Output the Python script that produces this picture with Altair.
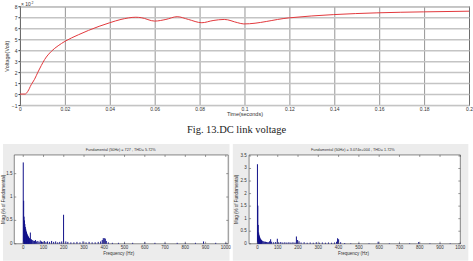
import altair as alt
import pandas as pd

# ---------------- data ----------------
time_s = [0, 0.0023, 0.0035, 0.005, 0.0065, 0.008, 0.0095, 0.011, 0.014, 0.017,
          0.02, 0.026, 0.0305, 0.04, 0.045, 0.0516, 0.054, 0.06, 0.065, 0.07,
          0.075, 0.081, 0.086, 0.091, 0.097, 0.0997, 0.1197, 0.1397, 0.159, 0.1797, 0.2]
voltage = [0, 0, 0.25, 0.85, 1.35, 2.0, 2.6, 3.15, 3.9, 4.4,
           4.8, 5.4, 5.8, 6.5, 6.8, 7.0, 6.96, 6.65, 6.8, 7.05,
           6.8, 6.5, 6.7, 6.8, 6.5, 6.39, 6.94, 7.24, 7.4, 7.49, 7.55]
time_ticks = [0, 0.02, 0.04, 0.06, 0.08, 0.1, 0.12, 0.14, 0.16, 0.18, 0.2]
volt_ticks = [-1, 0, 1, 2, 3, 4, 5, 6, 7, 8]
caption = "Fig. 13.DC link voltage"
exp_base = "× 10"
exp_power = "2"

left_freq = [0, 2, 4, 6, 8, 10, 12, 14, 16, 18,
             20, 22, 24, 26, 28, 30, 32, 35, 38, 40,
             44, 48, 52, 56, 60, 66, 72, 78, 84, 90,
             96, 104, 112, 120, 130, 140, 150, 160, 170, 180,
             190, 199, 210, 220, 235, 250, 265, 280, 295, 310,
             325, 340, 355, 370, 382, 390, 395, 400, 405, 410,
             420, 440, 470, 500, 540, 600, 650, 700, 760, 800,
             850, 890, 950, 1000]
left_mag = [1.74, 0.92, 0.58, 0.50, 0.42, 0.36, 0.32, 0.28, 0.25, 0.22,
            0.20, 0.18, 0.16, 0.15, 0.13, 0.12, 0.11, 0.24, 0.10, 0.09,
            0.08, 0.07, 0.06, 0.06, 0.08, 0.05, 0.06, 0.04, 0.07, 0.05,
            0.04, 0.06, 0.04, 0.05, 0.04, 0.06, 0.04, 0.05, 0.03, 0.04,
            0.05, 0.62, 0.05, 0.04, 0.03, 0.03, 0.04, 0.03, 0.05, 0.03,
            0.04, 0.03, 0.03, 0.04, 0.05, 0.08, 0.12, 0.12, 0.11, 0.06,
            0.03, 0.02, 0.02, 0.02, 0.02, 0.03, 0.02, 0.02, 0.02, 0.02,
            0.02, 0.05, 0.02, 0.02]
right_freq = [0, 2, 4, 6, 8, 10, 12, 14, 16, 18,
              20, 24, 28, 32, 36, 40, 45, 50, 55, 60,
              65, 70, 80, 90, 98, 105, 115, 125, 135, 145,
              155, 165, 175, 185, 192, 198, 205, 215, 230, 245,
              260, 275, 290, 305, 320, 335, 350, 365, 380, 390,
              395, 400, 410, 430, 460, 500, 550, 595, 650, 700,
              750, 795, 850, 900, 950, 1000]
right_mag = [3.17, 1.52, 0.75, 0.45, 0.36, 0.30, 0.25, 0.21, 0.18, 0.16,
             0.14, 0.12, 0.10, 0.09, 0.08, 0.08, 0.07, 0.06, 0.06, 0.10,
             0.18, 0.08, 0.06, 0.07, 0.20, 0.06, 0.07, 0.05, 0.06, 0.05,
             0.06, 0.05, 0.06, 0.05, 0.29, 0.15, 0.10, 0.05, 0.06, 0.04,
             0.05, 0.04, 0.06, 0.04, 0.05, 0.04, 0.05, 0.04, 0.05, 0.08,
             0.22, 0.18, 0.06, 0.03, 0.02, 0.03, 0.02, 0.08, 0.02, 0.02,
             0.02, 0.07, 0.02, 0.02, 0.02, 0.02]
freq_ticks = [0, 100, 200, 300, 400, 500, 600, 700, 800, 900, 1000]
left_mag_ticks = [0, 0.5, 1, 1.5]
right_mag_ticks = [0, 0.5, 1, 1.5, 2, 2.5, 3, 3.5]
left_title = "Fundamental (50Hz) = 727 , THD= 5.72%"
right_title = "Fundamental (50Hz) = 3.074e+004 , THD= 1.72%"
freq_label = "Frequency (Hz)"
mag_label = "Mag (% of Fundamental)"

FONT = "Liberation Sans"
AX = "#333333"

# ---------------- top chart ----------------
TW, TH = 450, 99
top_df = pd.DataFrame({"t": time_s, "v": voltage})
line = alt.Chart(top_df).mark_line(color="#e2383c", strokeWidth=1, interpolate="monotone").encode(
    x=alt.X("t:Q", scale=alt.Scale(domain=[0, 0.2], nice=False, zero=False),
            axis=alt.Axis(values=time_ticks, format="~g", title="Time(seconds)",
                          grid=True, gridColor="#7a7a7a", gridWidth=0.8, domain=False, ticks=False,
                          labelFontSize=5, labelFont=FONT, labelColor=AX, labelPadding=1.5,
                          labelFlush=False, titleFontSize=5.5, titleFont=FONT, titleColor=AX,
                          titleFontWeight="normal", titlePadding=0)),
    y=alt.Y("v:Q", scale=alt.Scale(domain=[-1, 8], nice=False, zero=False),
            axis=alt.Axis(values=volt_ticks, title="Voltage(Volt)", grid=True,
                          gridColor="#c4c4c4", gridWidth=1.5, domain=False, tickSize=2,
                          tickColor=AX, labelFontSize=5, labelFont=FONT, labelColor=AX,
                          labelPadding=1, labelFlush=False, titleFontSize=5.5, titleFont=FONT,
                          titleColor=AX, titleFontWeight="normal", titlePadding=1.5)),
)
one_row = pd.DataFrame({"k": [0]})
# invisible anchor that fixes the page origin (left/top margin)
anchor = alt.Chart(one_row).mark_rect(opacity=0).encode(
    x=alt.value(-19), x2=alt.value(0), y=alt.value(-5), y2=alt.value(0))
cap = alt.Chart(pd.DataFrame({"txt": [caption]})).mark_text(
    font="Liberation Serif", fontSize=10.5, color="#222222", align="center", baseline="middle"
).encode(x=alt.value(217), y=alt.value(124.5), text="txt:N")
expb = alt.Chart(pd.DataFrame({"b": [exp_base]})).mark_text(
    font=FONT, fontSize=5, color=AX, align="left", baseline="middle"
).encode(x=alt.value(1), y=alt.value(-2.2), text="b:N")
expp = alt.Chart(pd.DataFrame({"p": [exp_power]})).mark_text(
    font=FONT, fontSize=3.5, color=AX, align="left", baseline="middle"
).encode(x=alt.value(11.5), y=alt.value(-3.3), text="p:N")

top = alt.layer(anchor, line, cap, expb, expp).properties(
    width=TW, height=TH, view=alt.ViewBackground(stroke="#3a3a3a", strokeWidth=1)
)


# ---------------- bottom panels ----------------
def panel(freq, mag, yticks, ydom, xdom, title, W, H, fx0, gx0, gx1, ylab_x, ytitle_x,
          title_x, xtitle_x):
    one = pd.DataFrame({"k": [0]})
    xsc = alt.Scale(domain=xdom, nice=False, zero=False)
    ysc = alt.Scale(domain=ydom, nice=False, zero=False)
    gray = alt.Chart(one).mark_rect(color="#ececec").encode(
        x=alt.value(gx0), x2=alt.value(gx1), y=alt.value(-11), y2=alt.value(106))
    frame = alt.Chart(one).mark_rect(fill="white", stroke="#555555", strokeWidth=0.7).encode(
        x=alt.value(fx0), x2=alt.value(W), y=alt.value(0), y2=alt.value(H))
    bars = alt.Chart(pd.DataFrame({"f": freq, "m": mag})).mark_rule(
        color="#10108a", strokeWidth=1
    ).encode(
        x=alt.X("f:Q", scale=xsc, axis=None),
        y=alt.Y("m:Q", scale=ysc, axis=None),
        y2=alt.datum(0),
    )
    xt = pd.DataFrame({"v": freq_ticks})
    yt = pd.DataFrame({"v": yticks})
    tick_style = dict(color="#555555", strokeWidth=0.6)
    top_t = alt.Chart(xt).mark_rule(**tick_style).encode(
        x=alt.X("v:Q", scale=xsc, axis=None), y=alt.value(0), y2=alt.value(2))
    bot_t = alt.Chart(xt).mark_rule(**tick_style).encode(
        x=alt.X("v:Q", scale=xsc, axis=None), y=alt.value(H - 2), y2=alt.value(H))
    l_t = alt.Chart(yt).mark_rule(**tick_style).encode(
        y=alt.Y("v:Q", scale=ysc, axis=None), x=alt.value(fx0), x2=alt.value(fx0 + 2))
    r_t = alt.Chart(yt).mark_rule(**tick_style).encode(
        y=alt.Y("v:Q", scale=ysc, axis=None), x=alt.value(W - 2), x2=alt.value(W))
    xlab = alt.Chart(xt).mark_text(
        font=FONT, fontSize=4.5, color=AX, align="center", baseline="middle"
    ).encode(x=alt.X("v:Q", scale=xsc, axis=None), y=alt.value(H + 4),
             text=alt.Text("v:Q", format="d"))
    ylab = alt.Chart(yt).mark_text(
        font=FONT, fontSize=4.5, color=AX, align="right", baseline="middle"
    ).encode(y=alt.Y("v:Q", scale=ysc, axis=None), x=alt.value(ylab_x),
             text=alt.Text("v:Q", format="~g"))
    xttl = alt.Chart(pd.DataFrame({"s": [freq_label]})).mark_text(
        font=FONT, fontSize=4.5, color=AX, align="center", baseline="middle"
    ).encode(x=alt.value(xtitle_x), y=alt.value(H + 10), text="s:N")
    yttl = alt.Chart(pd.DataFrame({"s": [mag_label]})).mark_text(
        font=FONT, fontSize=4.5, color=AX, align="center", baseline="middle", angle=270
    ).encode(x=alt.value(ytitle_x), y=alt.value(H / 2), text="s:N")
    ttl = alt.Chart(pd.DataFrame({"s": [title]})).mark_text(
        font=FONT, fontSize=3.8, color=AX, align="center", baseline="middle"
    ).encode(x=alt.value(title_x), y=alt.value(-5), text="s:N")
    return alt.layer(gray, frame, bars, top_t, bot_t, l_t, r_t, xlab, ylab, xttl, yttl,
                     ttl).properties(
        width=W, height=H, view=alt.ViewBackground(strokeOpacity=0)
    )


left = panel(left_freq, left_mag, left_mag_ticks, [0, 1.9], [-16.3, 1011.8], left_title,
             208.7, 89, -5.7, -17, 210, -7.5, -15.5, 101, 99)
right = panel(right_freq, right_mag, right_mag_ticks, [0, 3.54], [-41.3, 1000], right_title,
              211.7, 89, 0, -16.3, 219.7, -2.3, -12.3, 104, 104.7)

bottom = alt.hconcat(left, right, spacing=20.6, bounds="flush")

chart = alt.vconcat(top, bottom, spacing=50, bounds="flush").properties(
    padding={"left": 0, "top": 0, "right": 0, "bottom": 0},
    background="white",
)

chart.save("out.html", embed_options={"renderer": "svg", "actions": False})
